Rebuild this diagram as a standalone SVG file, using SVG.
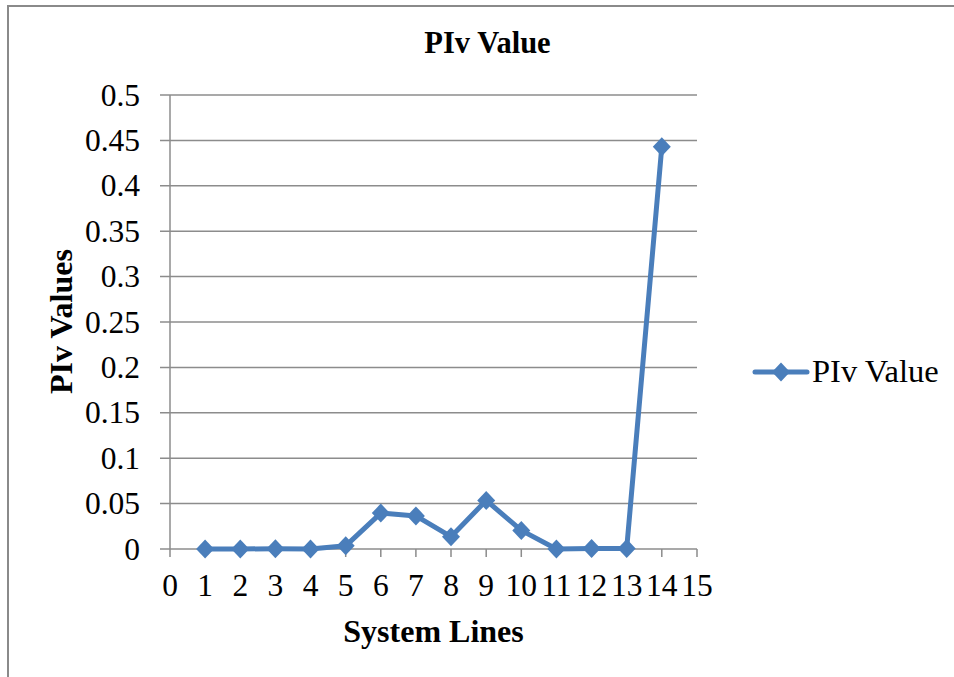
<svg xmlns="http://www.w3.org/2000/svg" xmlns:xlink="http://www.w3.org/1999/xlink" width="954" height="677" viewBox="0 0 954 677">
  <style>
    .frame { fill: none; stroke: #8a8a8a; stroke-width: 2; }
    .grid { stroke: #8c8c8c; stroke-width: 1.5; fill: none; }
    .axis { stroke: #8c8c8c; stroke-width: 1.5; fill: none; }
    .tick { font-family: "Liberation Serif", "Times New Roman", serif; font-size: 31.5px; fill: #000; }
    .ylab { text-anchor: end; }
    .xlab { text-anchor: middle; }
    .title { font-family: "Liberation Serif", "Times New Roman", serif; font-size: 30.5px; font-weight: bold; fill: #000; text-anchor: middle; }
    .axtitle { font-family: "Liberation Serif", "Times New Roman", serif; font-size: 32px; font-weight: bold; fill: #000; text-anchor: middle; }
    .legend { font-family: "Liberation Serif", "Times New Roman", serif; font-size: 32.5px; fill: #000; }
    .series { fill: none; stroke: #4a7ebb; stroke-width: 5; stroke-linejoin: round; stroke-linecap: round; }
    .mk { fill: #4a7ebb; }
  </style>
  <defs>
    <path id="diamond" class="mk" d="M0,-9.5 L9,0 L0,9.5 L-9,0 Z"/>
  </defs>

  <rect width="954" height="677" fill="#ffffff"/>
  <!-- chart frame (open on the right and bottom) -->
  <path class="frame" d="M8,677 V6 H954"/>

  <g id="title">
    <text class="title" x="487.5" y="52.5">PIv Value</text>
  </g>

  <!-- horizontal gridlines with left tick stubs -->
  <g id="gridlines">
    <line class="grid" x1="160" y1="95" x2="697" y2="95"/>
    <line class="grid" x1="160" y1="140.4" x2="697" y2="140.4"/>
    <line class="grid" x1="160" y1="185.8" x2="697" y2="185.8"/>
    <line class="grid" x1="160" y1="231.2" x2="697" y2="231.2"/>
    <line class="grid" x1="160" y1="276.6" x2="697" y2="276.6"/>
    <line class="grid" x1="160" y1="322" x2="697" y2="322"/>
    <line class="grid" x1="160" y1="367.4" x2="697" y2="367.4"/>
    <line class="grid" x1="160" y1="412.8" x2="697" y2="412.8"/>
    <line class="grid" x1="160" y1="458.2" x2="697" y2="458.2"/>
    <line class="grid" x1="160" y1="503.6" x2="697" y2="503.6"/>
  </g>

  <g id="y-axis">
    <line class="axis" x1="170" y1="95" x2="170" y2="549"/>
    <text class="tick ylab" x="140" y="105.5">0.5</text>
    <text class="tick ylab" x="140" y="150.9">0.45</text>
    <text class="tick ylab" x="140" y="196.3">0.4</text>
    <text class="tick ylab" x="140" y="241.7">0.35</text>
    <text class="tick ylab" x="140" y="287.1">0.3</text>
    <text class="tick ylab" x="140" y="332.5">0.25</text>
    <text class="tick ylab" x="140" y="377.9">0.2</text>
    <text class="tick ylab" x="140" y="423.3">0.15</text>
    <text class="tick ylab" x="140" y="468.7">0.1</text>
    <text class="tick ylab" x="140" y="514.1">0.05</text>
    <text class="tick ylab" x="140" y="559.5">0</text>
    <text class="axtitle" transform="translate(71.5,321.5) rotate(-90)">PIv Values</text>
  </g>

  <g id="x-axis">
    <line class="axis" x1="160" y1="549" x2="697" y2="549"/>
    <path class="axis" d="M170,549 V557 M205.1,549 V557 M240.3,549 V557 M275.4,549 V557 M310.5,549 V557 M345.7,549 V557 M380.8,549 V557 M415.9,549 V557 M451,549 V557 M486.2,549 V557 M521.3,549 V557 M556.4,549 V557 M591.6,549 V557 M626.7,549 V557 M661.8,549 V557 M697,549 V557"/>
    <text class="tick xlab" x="170" y="596">0</text>
    <text class="tick xlab" x="205.1" y="596">1</text>
    <text class="tick xlab" x="240.3" y="596">2</text>
    <text class="tick xlab" x="275.4" y="596">3</text>
    <text class="tick xlab" x="310.5" y="596">4</text>
    <text class="tick xlab" x="345.7" y="596">5</text>
    <text class="tick xlab" x="380.8" y="596">6</text>
    <text class="tick xlab" x="415.9" y="596">7</text>
    <text class="tick xlab" x="451" y="596">8</text>
    <text class="tick xlab" x="486.2" y="596">9</text>
    <text class="tick xlab" x="521.3" y="596">10</text>
    <text class="tick xlab" x="556.4" y="596">11</text>
    <text class="tick xlab" x="591.6" y="596">12</text>
    <text class="tick xlab" x="626.7" y="596">13</text>
    <text class="tick xlab" x="661.8" y="596">14</text>
    <text class="tick xlab" x="697" y="596">15</text>
    <text class="axtitle" x="433.5" y="641.5">System Lines</text>
  </g>

  <!-- data series -->
  <g id="series-piv">
    <polyline class="series" points="205.1,549 240.3,549 275.4,548.7 310.5,549 345.7,545.8 380.8,513.1 415.9,515.9 451,536.7 486.2,500.4 521.3,530.4 556.4,549 591.6,548.5 626.7,548.5 661.8,146.8"/>
    <use xlink:href="#diamond" x="205.1" y="549"/>
    <use xlink:href="#diamond" x="240.3" y="549"/>
    <use xlink:href="#diamond" x="275.4" y="548.7"/>
    <use xlink:href="#diamond" x="310.5" y="549"/>
    <use xlink:href="#diamond" x="345.7" y="545.8"/>
    <use xlink:href="#diamond" x="380.8" y="513.1"/>
    <use xlink:href="#diamond" x="415.9" y="515.9"/>
    <use xlink:href="#diamond" x="451" y="536.7"/>
    <use xlink:href="#diamond" x="486.2" y="500.4"/>
    <use xlink:href="#diamond" x="521.3" y="530.4"/>
    <use xlink:href="#diamond" x="556.4" y="549"/>
    <use xlink:href="#diamond" x="591.6" y="548.5"/>
    <use xlink:href="#diamond" x="626.7" y="548.5"/>
    <use xlink:href="#diamond" x="661.8" y="146.8"/>
  </g>

  <g id="legend">
    <line class="series" x1="755" y1="372" x2="807" y2="372"/>
    <use xlink:href="#diamond" x="781" y="372"/>
    <text class="legend" x="812" y="382">PIv Value</text>
  </g>
</svg>
